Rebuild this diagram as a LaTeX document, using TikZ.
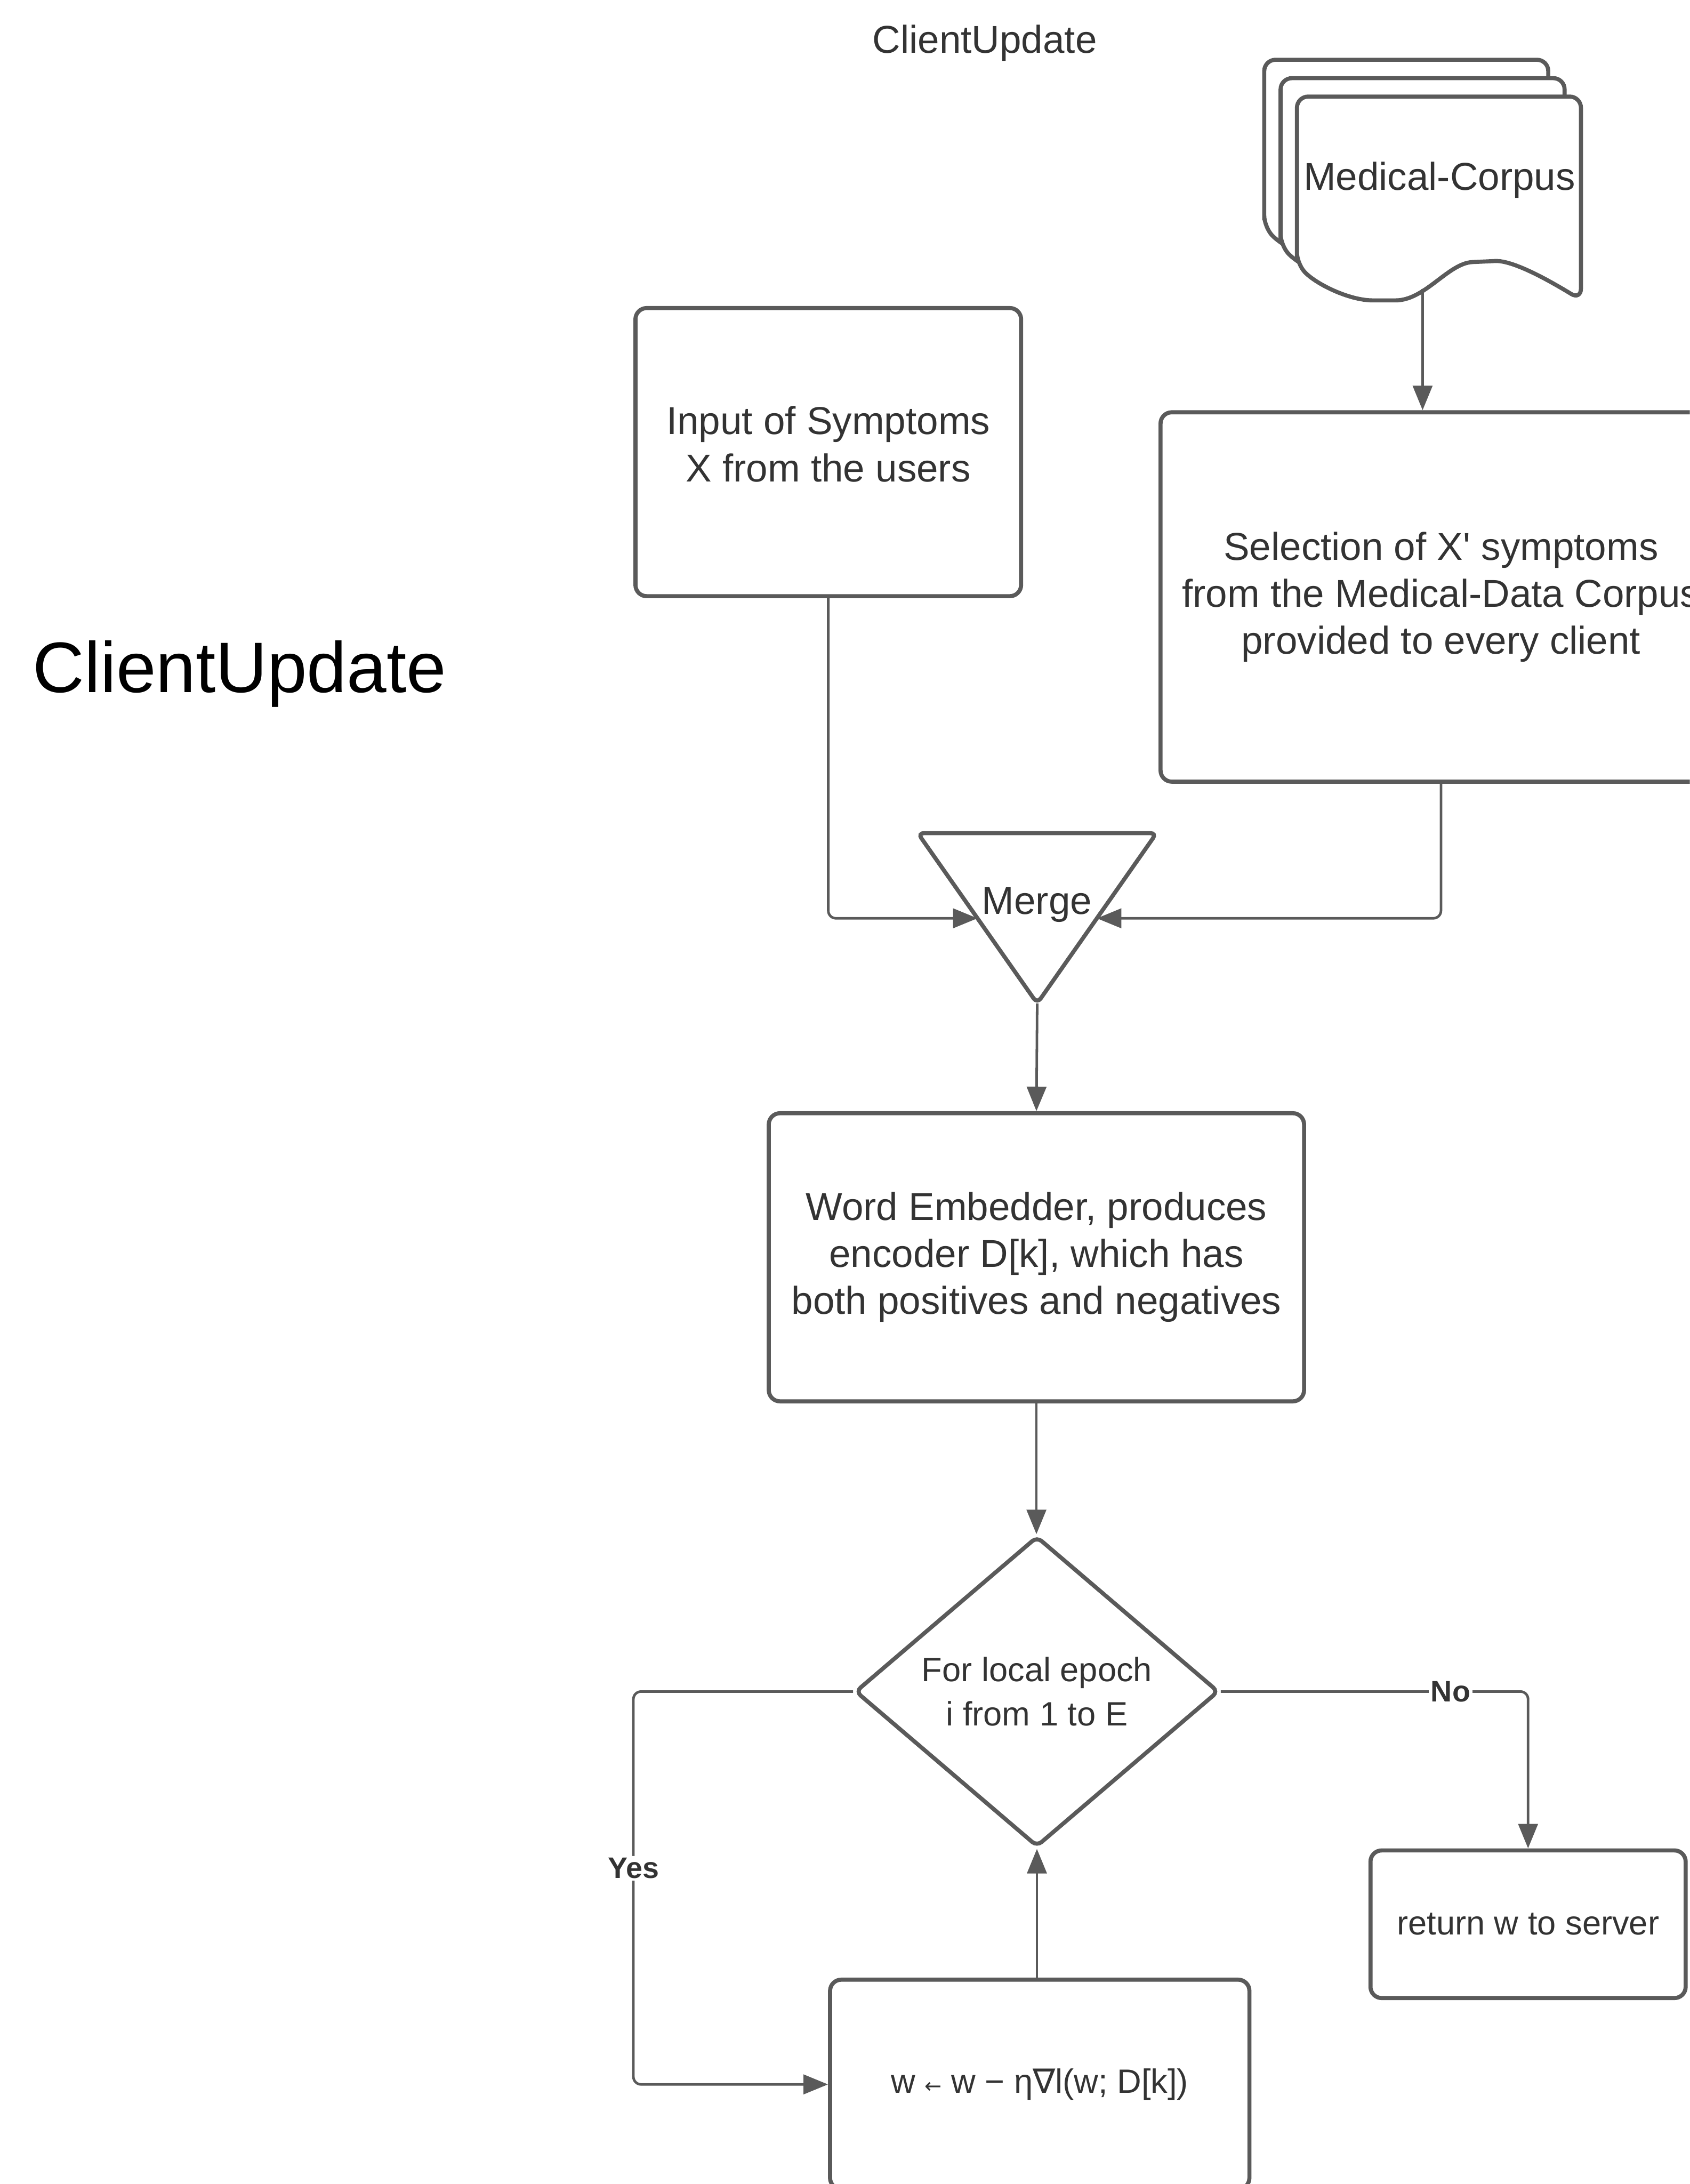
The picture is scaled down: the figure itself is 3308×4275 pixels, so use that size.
\documentclass[tikz,border=0pt]{standalone}
\usepackage{fontspec}
\setmainfont{Liberation Sans}
\newfontfamily\symfont{DejaVu Sans}
\usetikzlibrary{shapes.geometric,arrows.meta,calc}
\definecolor{linegray}{HTML}{5A5A5A}
\definecolor{textgray}{HTML}{333333}
\tikzset{
  box/.style={draw=linegray, line width=8pt, rounded corners=22pt, fill=white,
    text=textgray, align=center, inner sep=0pt,
    font=\fontsize{76}{92}\selectfont},
  smallbox/.style={box, font=\fontsize{66}{87}\selectfont},
  conn/.style={draw=linegray, line width=5pt, rounded corners=15pt},
  arr/.style={conn, -{Triangle[length=48pt,width=38pt]}},
  lbl/.style={fill=white, text=textgray, inner sep=4pt, font=\bfseries\fontsize{58}{70}\selectfont},
  docst/.style={draw=linegray, line width=8pt, rounded corners=22pt, fill=white},
  plain/.style={text=textgray, inner sep=0pt, font=\fontsize{76}{92}\selectfont}
}
\newcommand\docsheet{%
  \path[docst] (2539,516) -- (2539,189) -- (3095,189) -- (3095,587)
    .. controls (2985,520) and (2945,510) .. (2905,512)
    .. controls (2835,515) and (2790,588) .. (2710,588)
    .. controls (2640,588) and (2575,555) .. (2539,516) -- cycle;}
\begin{document}
\begin{tikzpicture}[x=1pt,y=-1pt]
\useasboundingbox (0,0) rectangle (3308,4275);
\clip (0,0) rectangle (3308,4275);
\fill[white] (0,0) rectangle (3308,4275);

% titles
\node[plain, anchor=base] (title) at (1928,104) {ClientUpdate};
\node[anchor=base, inner sep=0pt, text=black, font=\fontsize{140}{160}\selectfont] (bigtitle) at (469,1355) {ClientUpdate};

% multi-document
\begin{scope}[shift={(-64,-72)}]\docsheet\end{scope}
\begin{scope}[shift={(-32,-36)}]\docsheet\end{scope}
\docsheet
\node[plain] (corpus) at (2818,352) {Medical-Corpus};
\coordinate (docb) at (2785,566);

% boxes
\node[box, minimum width=755pt, minimum height=564pt] (inp) at (1621.5,885)
  {Input of Symptoms\\X from the users\\[-60pt]\mbox{}};
\node[box, minimum width=1098pt, minimum height=723pt] (sel) at (2821,1168.5)
  {Selection of X\textquotesingle{} symptoms\\from the Medical-Data Corpus\\provided to every client};

% merge triangle
\node[minimum width=467pt, minimum height=333pt, inner sep=0pt] (merge) at (2030.5,1797.5) {};
\draw[draw=linegray, line width=8pt, rounded corners=12pt, fill=white]
  (merge.north west) -- (merge.north east) -- (merge.south) -- cycle;
\node[plain] (mergetxt) at (2030,1771) {Merge};
\coordinate (mergeL) at ($(merge.north west)!0.5!(merge.south)$);
\coordinate (mergeR) at ($(merge.north east)!0.5!(merge.south)$);

\node[box, minimum width=1048pt, minimum height=564pt] (word) at (2029,2461)
  {Word Embedder, produces\\encoder D[k], which has\\both positives and negatives};

\node[smallbox, shape=diamond, aspect=1.17, minimum width=712pt, minimum height=608pt,
  rounded corners=12pt] (dia) at (2030,3311) {For local epoch\\i from 1 to E};

\node[smallbox, minimum width=821pt, minimum height=410pt] (wbox) at (2035.5,4080)
  {w {\symfont\fontsize{40}{40}\selectfont ←} w − η{\symfont ∇}l(w; D[k])};
\node[smallbox, minimum width=617pt, minimum height=289pt] (ret) at (2991.5,3766.5)
  {return w to server};

% connectors
\draw[arr] (docb) -- (docb |- sel.north);
\draw[arr] (inp.south) |- (mergeL);
\draw[arr] (sel.south) |- (mergeR);
\draw[arr] (merge.south) -- (word.north);
\draw[arr] (word.south) -- (word.south |- dia.north);
\draw[arr] (dia.west) -| ($(wbox.west)+(-381,0)$) node[lbl, pos=0.725] {Yes} -- (wbox.west);
\draw[arr] (wbox.north -| dia.south) -- (dia.south);
\draw[arr] (dia.east) -| (ret.north) node[lbl, pos=0.374] {No};
\end{tikzpicture}
\end{document}
